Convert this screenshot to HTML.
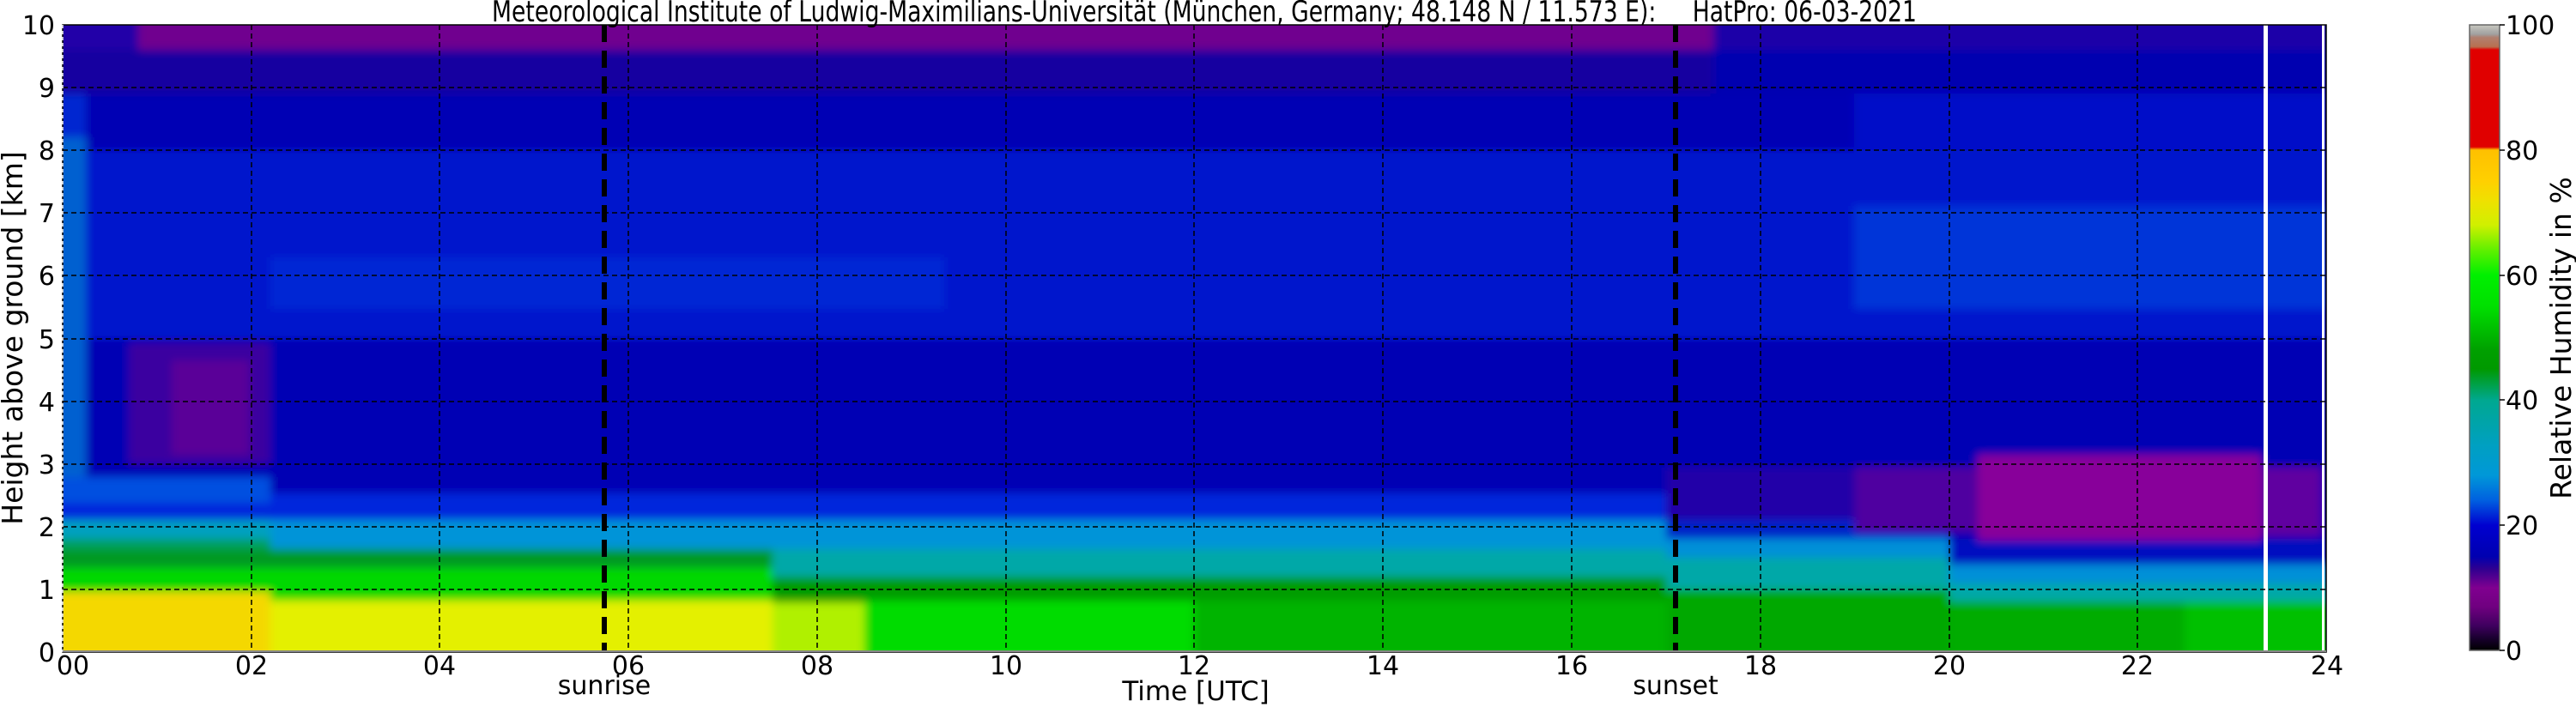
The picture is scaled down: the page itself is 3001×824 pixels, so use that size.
<!DOCTYPE html>
<html><head><meta charset="utf-8"><style>
html,body{margin:0;padding:0;background:#fff;}
svg{display:block;}
text{font-family:"DejaVu Sans","Liberation Sans",sans-serif;fill:#000;}
</style></head><body>
<svg width="3001" height="824" viewBox="0 0 3001 824" xmlns="http://www.w3.org/2000/svg">
<defs>
<clipPath id="pc"><rect x="73" y="29" width="2637" height="731"/></clipPath>
<filter id="bl" x="-5%" y="-5%" width="110%" height="110%"><feGaussianBlur stdDeviation="5"/></filter>
<linearGradient id="cb" x1="0" y1="1" x2="0" y2="0">
<stop offset="0" stop-color="#000000"/>
<stop offset="0.02" stop-color="#1a0030"/>
<stop offset="0.04" stop-color="#400060"/>
<stop offset="0.07" stop-color="#700080"/>
<stop offset="0.10" stop-color="#800090"/>
<stop offset="0.13" stop-color="#300090"/>
<stop offset="0.15" stop-color="#0000b0"/>
<stop offset="0.20" stop-color="#0000d0"/>
<stop offset="0.24" stop-color="#0060e0"/>
<stop offset="0.28" stop-color="#0098d8"/>
<stop offset="0.33" stop-color="#00a0c0"/>
<stop offset="0.40" stop-color="#00a890"/>
<stop offset="0.45" stop-color="#009900"/>
<stop offset="0.48" stop-color="#00a000"/>
<stop offset="0.55" stop-color="#00e000"/>
<stop offset="0.60" stop-color="#00f000"/>
<stop offset="0.64" stop-color="#60f000"/>
<stop offset="0.68" stop-color="#d0f000"/>
<stop offset="0.72" stop-color="#f0e000"/>
<stop offset="0.75" stop-color="#ffd000"/>
<stop offset="0.80" stop-color="#ffc000"/>
<stop offset="0.805" stop-color="#e00000"/>
<stop offset="0.96" stop-color="#e00000"/>
<stop offset="0.965" stop-color="#b87050"/>
<stop offset="0.98" stop-color="#b08070"/>
<stop offset="0.985" stop-color="#a0a0a0"/>
<stop offset="1" stop-color="#c8c8c0"/>
</linearGradient>
</defs>

<g clip-path="url(#pc)">
<g filter="url(#bl)">
<rect x="0" y="0" width="3001" height="824" fill="#0000b4"/>
<!-- top -->
<rect x="0" y="58" width="1996" height="51" fill="#1800a0"/>
<rect x="1996" y="58" width="1000" height="51" fill="#0000b0"/>
<rect x="0" y="-20" width="161" height="78" fill="#2000a8"/>
<rect x="161" y="-20" width="1835" height="78" fill="#70008f"/>
<rect x="1996" y="-20" width="1000" height="78" fill="#1a00a8"/>
<!-- mid -->
<rect x="100" y="175" width="2900" height="220" fill="#0018cc"/>
<rect x="315" y="300" width="785" height="60" fill="#0028d4"/>
<rect x="2160" y="240" width="840" height="120" fill="#0034d8"/>
<rect x="2160" y="109" width="840" height="66" fill="#0010c8"/>
<rect x="-20" y="160" width="120" height="400" fill="#0060d0"/>
<rect x="-20" y="109" width="120" height="51" fill="#0028d0"/>
<rect x="150" y="400" width="165" height="140" fill="#3a00a0"/>
<rect x="200" y="420" width="90" height="110" fill="#5a0098"/>
<!-- boundary 0-17h -->
<rect x="-20" y="575" width="1961" height="33" fill="#0028dc"/>
<rect x="-20" y="556" width="335" height="30" fill="#0050e0"/>
<rect x="-20" y="606" width="1961" height="34" fill="#0094d8"/>
<rect x="-20" y="606" width="335" height="22" fill="#00a0c0"/>
<rect x="-20" y="640" width="1961" height="32" fill="#00a8a8"/>
<rect x="-20" y="628" width="335" height="12" fill="#00a060"/>
<rect x="-20" y="640" width="920" height="22" fill="#009a20"/>
<rect x="-20" y="662" width="920" height="40" fill="#00d800"/>
<rect x="900" y="672" width="1041" height="30" fill="#009c00"/>
<rect x="-20" y="690" width="335" height="100" fill="#f4d800"/>
<rect x="315" y="700" width="585" height="90" fill="#e4f000"/>
<rect x="900" y="702" width="107" height="88" fill="#b0f000"/>
<rect x="1007" y="700" width="384" height="90" fill="#00dc00"/>
<rect x="1391" y="700" width="550" height="90" fill="#00b400"/>
<!-- after sunset -->
<rect x="1941" y="687" width="330" height="103" fill="#00a800"/>
<rect x="2271" y="701" width="800" height="90" fill="#00ac00"/>
<rect x="2545" y="701" width="500" height="90" fill="#00c000"/>
<rect x="1941" y="650" width="330" height="37" fill="#00a8a8"/>
<rect x="2271" y="680" width="800" height="21" fill="#00a8a8"/>
<rect x="1941" y="628" width="330" height="22" fill="#0090d8"/>
<rect x="2271" y="658" width="800" height="22" fill="#0090d8"/>
<rect x="1941" y="606" width="330" height="22" fill="#0020c8"/>
<rect x="2271" y="628" width="800" height="30" fill="#0010c0"/>
<rect x="1941" y="545" width="220" height="60" fill="#2000a8"/>
<rect x="2161" y="545" width="143" height="75" fill="#5000a0"/>
<rect x="2304" y="530" width="330" height="100" fill="#88009a"/>
<rect x="2634" y="545" width="70" height="80" fill="#6000a0"/>
</g>
<rect x="2637" y="29" width="5" height="731" fill="#fff"/>
<rect x="2705" y="29" width="3" height="731" fill="#fff"/>
</g>

<!-- grid -->
<g stroke="#000" stroke-width="1.5" stroke-dasharray="6,4" fill="none">
<line x1="73" y1="687" x2="2710" y2="687"/>
<line x1="73" y1="614" x2="2710" y2="614"/>
<line x1="73" y1="541" x2="2710" y2="541"/>
<line x1="73" y1="468" x2="2710" y2="468"/>
<line x1="73" y1="395" x2="2710" y2="395"/>
<line x1="73" y1="321" x2="2710" y2="321"/>
<line x1="73" y1="248" x2="2710" y2="248"/>
<line x1="73" y1="175" x2="2710" y2="175"/>
<line x1="73" y1="102" x2="2710" y2="102"/>
<line x1="293" y1="29" x2="293" y2="760"/>
<line x1="512" y1="29" x2="512" y2="760"/>
<line x1="732" y1="29" x2="732" y2="760"/>
<line x1="952" y1="29" x2="952" y2="760"/>
<line x1="1172" y1="29" x2="1172" y2="760"/>
<line x1="1391" y1="29" x2="1391" y2="760"/>
<line x1="1611" y1="29" x2="1611" y2="760"/>
<line x1="1831" y1="29" x2="1831" y2="760"/>
<line x1="2051" y1="29" x2="2051" y2="760"/>
<line x1="2271" y1="29" x2="2271" y2="760"/>
<line x1="2490" y1="29" x2="2490" y2="760"/>
</g>
<g stroke="#000" stroke-width="6" stroke-dasharray="20,10">
<line x1="704" y1="29" x2="704" y2="760"/>
<line x1="1952" y1="29" x2="1952" y2="760"/>
</g>
<rect x="73" y="29" width="2637" height="731" fill="none" stroke="#000" stroke-width="1.5"/>
<line x1="73" y1="29" x2="73" y2="760" stroke="#fff" stroke-width="1.5" stroke-dasharray="4,3"/>
<line x1="73" y1="759" x2="2710" y2="759" stroke="#888" stroke-width="2"/>

<!-- y ticks -->
<g font-size="30" text-anchor="end">
<text x="64" y="771">0</text>
<text x="64" y="698">1</text>
<text x="64" y="625">2</text>
<text x="64" y="552">3</text>
<text x="64" y="479">4</text>
<text x="64" y="406">5</text>
<text x="64" y="332">6</text>
<text x="64" y="259">7</text>
<text x="64" y="186">8</text>
<text x="64" y="113">9</text>
<text x="64" y="40">10</text>
</g>
<g font-size="30" text-anchor="middle">
<text x="85" y="786">00</text>
<text x="293" y="786">02</text>
<text x="512" y="786">04</text>
<text x="732" y="786">06</text>
<text x="952" y="786">08</text>
<text x="1172" y="786">10</text>
<text x="1391" y="786">12</text>
<text x="1611" y="786">14</text>
<text x="1831" y="786">16</text>
<text x="2051" y="786">18</text>
<text x="2271" y="786">20</text>
<text x="2490" y="786">22</text>
<text x="2711" y="786">24</text>
<text x="704" y="809">sunrise</text>
<text x="1952" y="809">sunset</text>
</g>
<text x="1393" y="816" font-size="31" text-anchor="middle" font-family="Liberation Sans, sans-serif">Time [UTC]</text>
<text transform="translate(26,394) rotate(-90)" font-size="33" text-anchor="middle" font-family="Liberation Sans, sans-serif">Height above ground [km]</text>
<text x="573" y="25" font-size="34" textLength="1660" lengthAdjust="spacingAndGlyphs" font-family="Liberation Sans, sans-serif" xml:space="preserve">Meteorological Institute of Ludwig-Maximilians-Universität (München, Germany; 48.148 N / 11.573 E):     HatPro: 06-03-2021</text>

<!-- colorbar -->
<rect x="2877" y="29" width="35" height="729" fill="url(#cb)" stroke="#666" stroke-width="1.5"/>
<g stroke="#000" stroke-width="1.5">
<line x1="2912" y1="758" x2="2918" y2="758"/>
<line x1="2912" y1="612" x2="2918" y2="612"/>
<line x1="2912" y1="466" x2="2918" y2="466"/>
<line x1="2912" y1="321" x2="2918" y2="321"/>
<line x1="2912" y1="175" x2="2918" y2="175"/>
<line x1="2912" y1="29" x2="2918" y2="29"/>
</g>
<g font-size="30">
<text x="2919" y="769">0</text>
<text x="2919" y="623">20</text>
<text x="2919" y="477">40</text>
<text x="2919" y="332">60</text>
<text x="2919" y="186">80</text>
<text x="2919" y="40">100</text>
</g>
<text transform="translate(2995,394) rotate(-90)" font-size="33" text-anchor="middle" font-family="Liberation Sans, sans-serif">Relative Humidity in %</text>
</svg>
</body></html>
